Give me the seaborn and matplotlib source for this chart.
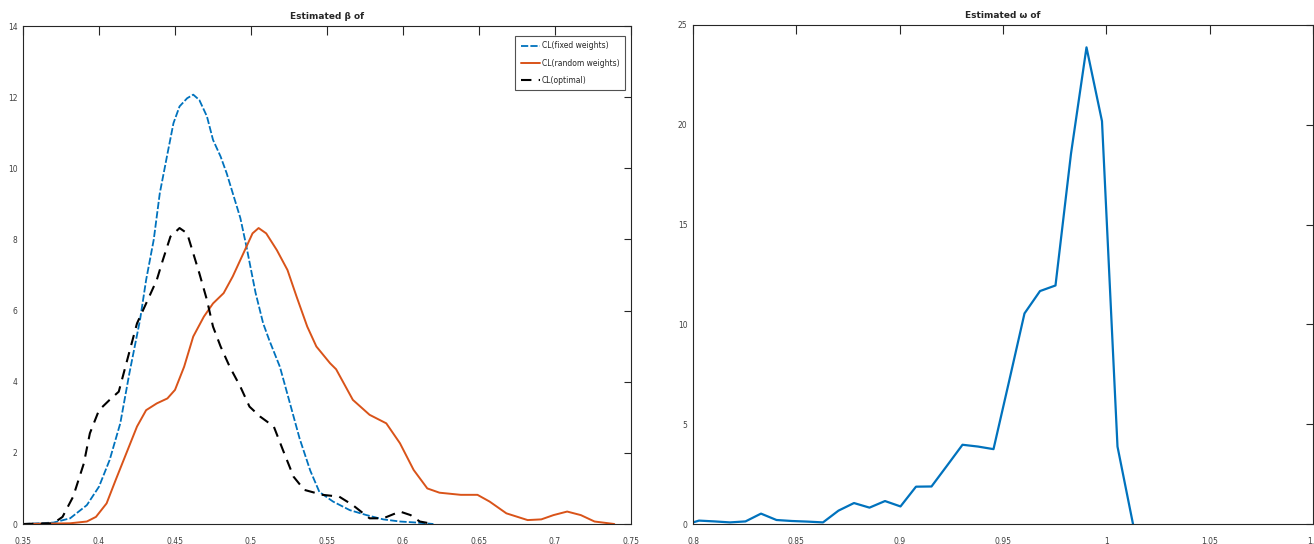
import numpy as np
import pandas as pd
import seaborn as sns
import matplotlib.pyplot as plt

# left panel: estimated densities of the three CL variants
fixed_x = [0.35, 0.370, 0.381, 0.392, 0.400, 0.407, 0.414, 0.420, 0.427, 0.431, 0.436,
           0.440, 0.445, 0.449, 0.453, 0.458, 0.462, 0.466, 0.471, 0.475, 0.480, 0.484,
           0.488, 0.493, 0.497, 0.503, 0.508, 0.512, 0.519, 0.525, 0.532, 0.539, 0.545,
           0.554, 0.565, 0.576, 0.587, 0.598, 0.609, 0.620]
fixed_y = [0.0, 0.04, 0.16, 0.53, 1.05, 1.8, 2.83, 4.24, 5.74, 6.86, 7.99,
           9.3, 10.4, 11.27, 11.74, 11.97, 12.07, 11.92, 11.46, 10.8, 10.33, 9.86,
           9.3, 8.6, 7.8, 6.5, 5.64, 5.17, 4.42, 3.49, 2.4, 1.5, 0.9,
           0.63, 0.39, 0.25, 0.13, 0.07, 0.04, 0.0]

random_x = [0.35, 0.381, 0.392, 0.398, 0.405, 0.411, 0.418, 0.425, 0.431, 0.438, 0.445,
            0.450, 0.456, 0.462, 0.469, 0.475, 0.482, 0.488, 0.495, 0.501, 0.505, 0.510,
            0.517, 0.524, 0.530, 0.537, 0.543, 0.552, 0.556, 0.567, 0.578, 0.589, 0.598,
            0.607, 0.616, 0.624, 0.638, 0.649, 0.657, 0.668, 0.682, 0.691, 0.699, 0.708,
            0.717, 0.726, 0.739]
random_y = [0.0, 0.02, 0.07, 0.2, 0.58, 1.24, 1.99, 2.74, 3.2, 3.39, 3.53,
            3.77, 4.42, 5.27, 5.83, 6.2, 6.49, 6.96, 7.61, 8.17, 8.32, 8.17,
            7.7, 7.14, 6.39, 5.55, 4.99, 4.52, 4.35, 3.49, 3.07, 2.83, 2.27,
            1.52, 1.0, 0.88, 0.82, 0.82, 0.63, 0.30, 0.11, 0.13, 0.25, 0.35,
            0.25, 0.07, 0.0]

optimal_x = [0.35, 0.370, 0.376, 0.383, 0.390, 0.394, 0.400, 0.407, 0.413, 0.418, 0.425,
             0.431, 0.438, 0.442, 0.447, 0.453, 0.458, 0.462, 0.466, 0.471, 0.475, 0.480,
             0.486, 0.493, 0.499, 0.506, 0.515, 0.521, 0.528, 0.535, 0.547, 0.558, 0.567,
             0.578, 0.587, 0.598, 0.605, 0.611, 0.620]
optimal_y = [0.0, 0.02, 0.2, 0.77, 1.7, 2.55, 3.2, 3.49, 3.72, 4.52, 5.64,
             6.2, 6.86, 7.42, 8.08, 8.32, 8.17, 7.61, 7.05, 6.3, 5.55, 4.99,
             4.42, 3.86, 3.3, 3.02, 2.74, 2.08, 1.33, 0.96, 0.82, 0.77, 0.53,
             0.16, 0.16, 0.35, 0.25, 0.07, 0.0]

# right panel
w_x = [0.8, 0.8029, 0.8104, 0.8179, 0.8254, 0.8329, 0.8404, 0.8479, 0.8554, 0.8629,
       0.8704, 0.8779, 0.8854, 0.8929, 0.9004, 0.9079, 0.9154, 0.9229, 0.9304, 0.9379,
       0.9454, 0.9529, 0.9604, 0.9679, 0.9754, 0.9829, 0.9904, 0.9979, 1.0054, 1.0129]
w_y = [0.08, 0.17, 0.13, 0.08, 0.13, 0.52, 0.2, 0.15, 0.12, 0.08,
       0.67, 1.05, 0.82, 1.15, 0.88, 1.87, 1.88, 2.92, 3.97, 3.88,
       3.75, 7.13, 10.55, 11.67, 11.95, 18.55, 23.88, 20.18, 3.88, 0.0]

left_xticks = [0.35, 0.4, 0.45, 0.5, 0.55, 0.6, 0.65, 0.7, 0.75]
left_yticks = [0, 2, 4, 6, 8, 10, 12, 14]
right_xticks = [0.8, 0.85, 0.9, 0.95, 1.0, 1.05, 1.1]
right_yticks = [0, 5, 10, 15, 20, 25]

BLUE = '#0072BD'
ORANGE = '#D95319'

sns.set_style('white')
plt.rcParams['font.family'] = ['DejaVu Sans']

fig = plt.figure(figsize=(13.14, 5.44), dpi=100)
ax1 = fig.add_axes([23 / 1314, 20 / 544, 608 / 1314, 498 / 544])
ax2 = fig.add_axes([693 / 1314, 20 / 544, 620 / 1314, 499 / 544])

sns.lineplot(x=fixed_x, y=fixed_y, ax=ax1, color=BLUE, lw=1.3, sort=False,
             linestyle=(0, (4, 1.2)), label='CL(fixed weights)')
sns.lineplot(x=random_x, y=random_y, ax=ax1, color=ORANGE, lw=1.4, sort=False,
             label='CL(random weights)')
sns.lineplot(x=optimal_x, y=optimal_y, ax=ax1, color='black', lw=1.5, sort=False,
             linestyle=(0, (5, 3.5)), label='CL(optimal)')
sns.lineplot(x=w_x, y=w_y, ax=ax2, color=BLUE, lw=1.6, sort=False)

ax1.set_xlim(0.35, 0.75)
ax1.set_ylim(0, 14)
ax1.set_xticks(left_xticks)
ax1.set_xticklabels([f'{v:g}' for v in left_xticks])
ax1.set_yticks(left_yticks)
ax1.set_yticklabels([str(v) for v in left_yticks])
ax1.set_title('Estimated β of', fontsize=6.5, fontweight='bold', pad=5)

ax2.set_xlim(0.8, 1.1)
ax2.set_ylim(0, 25)
ax2.set_xticks(right_xticks)
ax2.set_xticklabels([f'{v:g}' for v in right_xticks])
ax2.set_yticks(right_yticks)
ax2.set_yticklabels([str(v) for v in right_yticks])
ax2.set_title('Estimated ω of', fontsize=6.5, fontweight='bold', pad=5)

for ax in (ax1, ax2):
    for s in ax.spines.values():
        s.set_visible(True)
        s.set_color('#262626')
        s.set_linewidth(0.8)
    ax.tick_params(axis='both', direction='in', top=True, right=True,
                   labelsize=5.5, labelcolor='#404040', color='#262626', width=0.8)
    ax.tick_params(axis='x', length=6.5, pad=9)
    ax.tick_params(axis='y', length=5, pad=4)
    ax.set_xlabel('')
    ax.set_ylabel('')

leg = ax1.legend(loc='upper right', bbox_to_anchor=(0.99, 0.98), fontsize=5.5,
                 frameon=True, fancybox=False, edgecolor='#262626',
                 handlelength=2.6, handletextpad=0.2, labelspacing=1.1,
                 borderpad=0.7, borderaxespad=0)
leg.get_frame().set_linewidth(0.8)

fig.savefig('out.png', dpi=100)
